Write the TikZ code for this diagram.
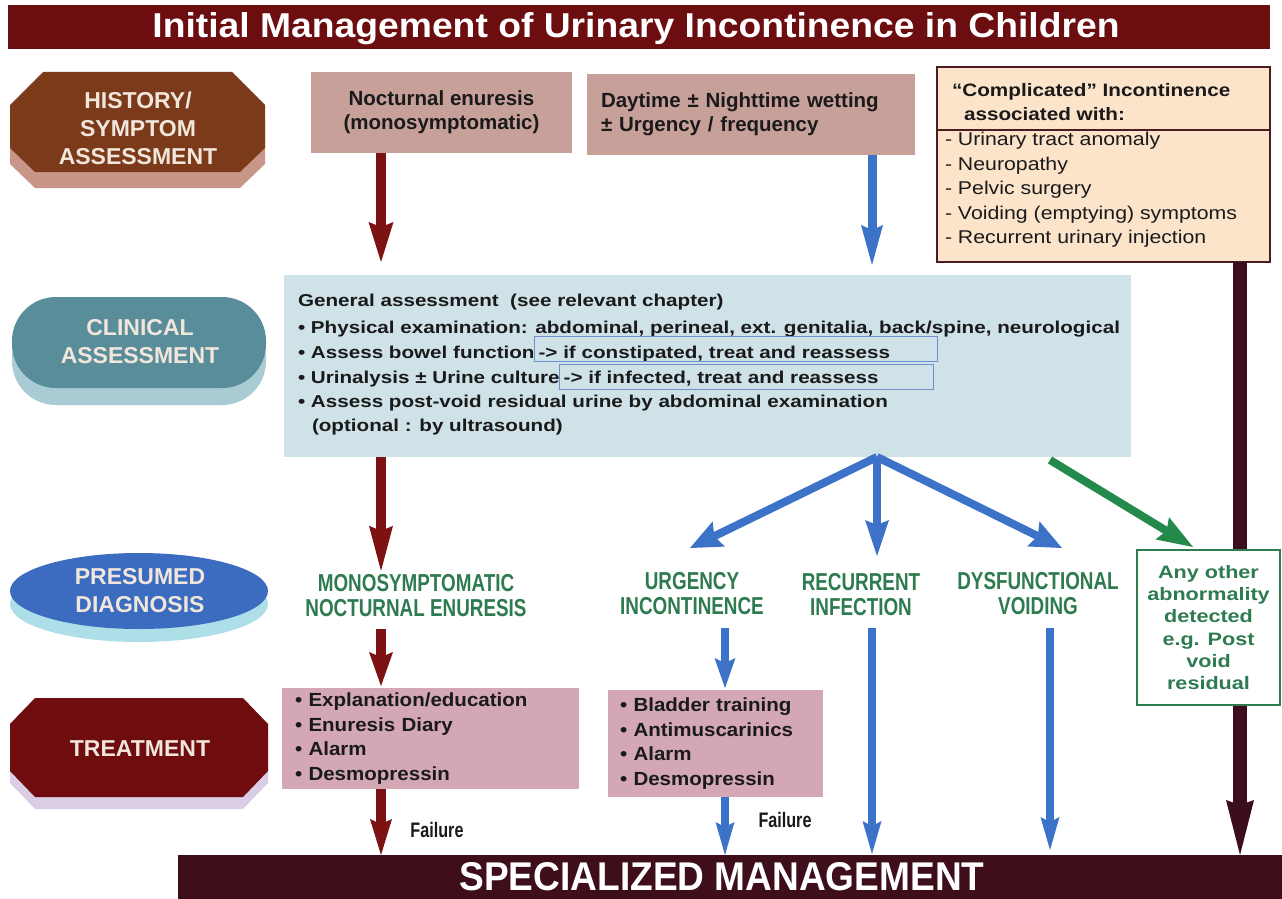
\documentclass[tikz,border=0pt]{standalone}
\usepackage{fontspec}
\setmainfont{Liberation Sans}
\newfontfamily\fwideC[FakeStretch=1.2]{Liberation Sans}
\newfontfamily\fwideL[FakeStretch=1.15]{Liberation Sans}
\newfontfamily\fwideT[FakeStretch=1.08]{Liberation Sans}
\newfontfamily\fnarrow[FakeStretch=0.77]{Liberation Sans}
\usetikzlibrary{arrows.meta}
\definecolor{titlered}{HTML}{6C0D10}
\definecolor{histbrown}{HTML}{7B3B1B}
\definecolor{histshadow}{HTML}{C89689}
\definecolor{clinteal}{HTML}{5A8D9A}
\definecolor{clinshadow}{HTML}{A9CBD3}
\definecolor{presblue}{HTML}{3B6CC0}
\definecolor{presshadow}{HTML}{AEDFE8}
\definecolor{treatred}{HTML}{6E0C0E}
\definecolor{treatshadow}{HTML}{DBCDE6}
\definecolor{pinkbox}{HTML}{C8A09A}
\definecolor{compfill}{HTML}{FCE4CB}
\definecolor{compborder}{HTML}{4A1C22}
\definecolor{clinfill}{HTML}{CFE2E7}
\definecolor{arrred}{HTML}{7C1212}
\definecolor{arrblue}{HTML}{3D72C9}
\definecolor{arrdark}{HTML}{3C0D1C}
\definecolor{arrgreen}{HTML}{238A4C}
\definecolor{txtgreen}{HTML}{2E7B50}
\definecolor{treatpink}{HTML}{D3A8B4}
\definecolor{bottomdark}{HTML}{3E0E1B}
\definecolor{innerblue}{HTML}{6D8FD0}
\definecolor{labellight}{HTML}{F1E6DC}
\definecolor{bodytext}{HTML}{1A1A1A}
\tikzset{
  harrow/.style n args={4}{color=#1, line width=#2,
     -{Stealth[length=#3, width=#4, inset=5pt, line width=0pt]}},
  sidelabel/.style={align=center, text=labellight,
     font=\bfseries\fontsize{23}{28}\selectfont},
  diaglabel/.style={align=center, text=txtgreen,
     font=\fnarrow\bfseries\fontsize{24.5}{25}\selectfont},
  ctext/.style={anchor=base west, text=bodytext,
     font=\fwideC\bfseries\fontsize{17.2}{25}\selectfont},
  topbox/.style={fill=pinkbox, text=bodytext,
     font=\bfseries\fontsize{20.5}{24}\selectfont},
  treatbox/.style={fill=treatpink, text=bodytext, align=left,
     font=\fwideT\bfseries\fontsize{19}{24.5}\selectfont},
  failtext/.style={text=bodytext, font=\fnarrow\bfseries\fontsize{21}{22}\selectfont},
}
\begin{document}
\begin{tikzpicture}[x=1pt,y=-1pt, every node/.style={inner sep=0pt, outer sep=0pt}]
\useasboundingbox (0,0) rectangle (1282,899);
\fill[white] (0,0) rectangle (1282,899);

% title
\fill[titlered] (8,5) rectangle (1270,49);
\node[anchor=base, text=white] (title) at (636,38)
  {\resizebox{967pt}{25pt}{\bfseries Initial Management of Urinary Incontinence in Children}};

% left column shapes
\fill[histshadow] (43,88) -- (232,88) -- (265,121) -- (265,164) -- (240,188) -- (35,188) -- (10,164) -- (10,121) -- cycle;
\fill[histbrown] (43,72) -- (232,72) -- (265,105) -- (265,148) -- (240,172) -- (35,172) -- (10,148) -- (10,105) -- cycle;
\node[sidelabel] (hist) at (138,128) {HISTORY/\\SYMPTOM\\ASSESSMENT};

\fill[clinshadow, rounded corners=44pt] (12,314) rectangle (266,405);
\fill[clinteal, rounded corners=44pt] (12,297) rectangle (266,388);
\node[sidelabel] (clinl) at (140,342) {CLINICAL\\ASSESSMENT};

\fill[presshadow] (139,604) ellipse [x radius=129pt, y radius=38pt];
\fill[presblue] (139,591) ellipse [x radius=129pt, y radius=38pt];
\node[sidelabel] (presl) at (140,591) {PRESUMED\\DIAGNOSIS};

\fill[treatshadow] (35,710) -- (243,710) -- (268,736) -- (268,783) -- (243,809) -- (35,809) -- (10,783) -- (10,736) -- cycle;
\fill[treatred] (35,698) -- (243,698) -- (268,724) -- (268,771) -- (243,797) -- (35,797) -- (10,771) -- (10,724) -- cycle;
\node[sidelabel] (treatl) at (140,749) {TREATMENT};

% top boxes
\node[topbox, minimum width=261pt, minimum height=81pt, align=center] (noc) at (441.5,112.5)
  {Nocturnal enuresis\\(monosymptomatic)};
\node[topbox, minimum width=328pt, minimum height=81pt, text width=300pt, align=left] (day) at (751,114.5)
  {Daytime ± Nighttime wetting\\± Urgency / frequency};

% complicated box
\node[draw=compborder, line width=2pt, fill=compfill, minimum width=333pt, minimum height=195pt] (comp) at (1103.5,164.5) {};
\coordinate (dv) at (0,130);
\draw[compborder, line width=1.5pt] (comp.west |- dv) -- (comp.east |- dv);
\node[anchor=west, align=left, text=bodytext, font=\fwideL\bfseries\fontsize{18}{24}\selectfont] (comph) at (952,102)
  {“Complicated” Incontinence\\\hspace*{12pt}associated with:};
\node[anchor=west, align=left, text=bodytext, font=\fwideL\fontsize{18.5}{24.5}\selectfont] (compl) at (945,190)
  {- Urinary tract anomaly\\- Neuropathy\\- Pelvic surgery\\- Voiding (emptying) symptoms\\- Recurrent urinary injection};

% clinical box
\node[fill=clinfill, minimum width=847pt, minimum height=182pt] (clin) at (707.5,366) {};
\node[ctext] (c1) at (298,306) {General assessment\ \ (see relevant chapter)};
\node[ctext] (c2) at (298,333) {• Physical examination: abdominal, perineal, ext. genitalia, back/spine, neurological};
\node[ctext] (c3a) at (298,358) {• Assess bowel function};
\node[ctext, xshift=4pt] (c3b) at (c3a.base east) {-> if constipated, treat and reassess};
\node[ctext] (c4a) at (298,383) {• Urinalysis ± Urine culture};
\node[ctext, xshift=4pt] (c4b) at (c4a.base east) {-> if infected, treat and reassess};
\node[ctext] (c5) at (298,407) {• Assess post-void residual urine by abdominal examination};
\node[ctext] (c6) at (312,431) {(optional : by ultrasound)};
\coordinate (b1t) at (0,336); \coordinate (b1b) at (937,361);
\coordinate (b2t) at (0,364); \coordinate (b2b) at (933,389);
\draw[innerblue, line width=1pt] (c3a.east |- b1t) rectangle (b1b);
\draw[innerblue, line width=1pt] (c4a.east |- b2t) rectangle (b2b);

% bottom bar
\node[fill=bottomdark, minimum width=1104pt, minimum height=44pt] (bot) at (730,877) {};
\node[text=white] (bottxt) at (722,877) {\resizebox{525pt}{28pt}{\bfseries SPECIALIZED MANAGEMENT}};

% diagnosis labels
\node[diaglabel] (dmono) at (416,596) {MONOSYMPTOMATIC\\NOCTURNAL ENURESIS};
\node[diaglabel] (durg) at (692,594) {URGENCY\\INCONTINENCE};
\node[diaglabel] (drec) at (861,595) {RECURRENT\\INFECTION};
\node[diaglabel] (ddys) at (1038,594) {DYSFUNCTIONAL\\VOIDING};

% treatment boxes
\node[treatbox, minimum width=297pt, minimum height=101pt, text width=271pt] (tr1) at (430.5,738.5)
  {• Explanation/education\\• Enuresis Diary\\• Alarm\\• Desmopressin};
\node[treatbox, minimum width=215pt, minimum height=107pt, text width=191pt] (tr2) at (715.5,743.5)
  {• Bladder training\\• Antimuscarinics\\• Alarm\\• Desmopressin};

\node[failtext] (f1) at (437,830) {Failure};
\node[failtext] (f2) at (785,820) {Failure};

% x positions of connectors
\coordinate (xr) at (381,0);
\coordinate (xb) at (872,0);
\coordinate (xu) at (725,0);
\coordinate (xi) at (872,0);
\coordinate (xd) at (1050,0);
\coordinate (xk) at (1240,0);
\coordinate (xf) at (877,0);
\coordinate (xg) at (1050,0);
\coordinate (xe) at (1193,0);
\coordinate (fu) at (690,548);
\coordinate (fi) at (877,556);
\coordinate (fd) at (1062,548);

% dark arrow behind the green box
\draw[harrow={arrdark}{14pt}{55pt}{28pt}] (comp.south -| xk) -- (bot.north -| xk);

% green box
\node[draw=txtgreen, line width=1.2pt, fill=white, minimum width=143pt, minimum height=155pt,
      align=center, text=txtgreen, font=\fwideC\bfseries\fontsize{18}{22.2}\selectfont] (any) at (1208.5,627.5)
  {Any other\\abnormality\\detected\\e.g. Post\\void\\residual};

% arrows
\draw[harrow={arrred}{10pt}{40pt}{25pt}] (noc.south -| xr) -- ([yshift=13pt]clin.north -| xr);
\draw[harrow={arrblue}{9pt}{40pt}{22pt}] (day.south -| xb) -- ([yshift=10pt]clin.north -| xb);
\draw[harrow={arrred}{10pt}{45pt}{24pt}] (clin.south -| xr) -- ([yshift=4pt]dmono.north -| xr);
\draw[harrow={arrblue}{8pt}{32pt}{28pt}] (clin.south -| xf) -- (fu);
\draw[harrow={arrblue}{8pt}{36pt}{24pt}] (clin.south -| xf) -- (fi);
\draw[harrow={arrblue}{8pt}{32pt}{28pt}] (clin.south -| xf) -- (fd);
\draw[harrow={arrgreen}{8pt}{36pt}{26pt}] ([yshift=-3pt]clin.south -| xg) -- ([yshift=3pt]any.north -| xe);

\draw[harrow={arrred}{10pt}{34pt}{24pt}] ([yshift=-12pt]dmono.south -| xr) -- ([yshift=2pt]tr1.north -| xr);
\draw[harrow={arrblue}{8pt}{30pt}{21pt}] ([yshift=-13pt]durg.south -| xu) -- ([yshift=2pt]tr2.north -| xu);
\draw[harrow={arrblue}{8pt}{33pt}{19pt}] ([yshift=-12pt]drec.south -| xi) -- ([yshift=1pt]bot.north -| xi);
\draw[harrow={arrblue}{8pt}{33pt}{19pt}] ([yshift=-13pt]ddys.south -| xd) -- ([yshift=5pt]bot.north -| xd);
\draw[harrow={arrred}{10pt}{36pt}{22pt}] (tr1.south -| xr) -- (bot.north -| xr);
\draw[harrow={arrblue}{8pt}{33pt}{19pt}] (tr2.south -| xu) -- (bot.north -| xu);
\end{tikzpicture}
\end{document}
